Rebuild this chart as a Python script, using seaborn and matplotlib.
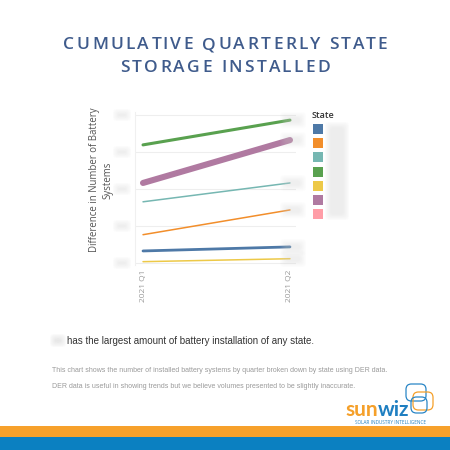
import numpy as np
import pandas as pd
import seaborn as sns
import matplotlib.pyplot as plt
from matplotlib.patches import FancyBboxPatch, Rectangle

sns.set_style("white")
plt.rcParams["font.family"] = ["Open Sans", "DejaVu Sans"]

# state names are blurred out in the original, so only keys are kept
quarters = ["2021 Q1", "2021 Q2"]
states = ["s1", "s2", "s3", "s4", "s5", "s6", "s7"]
state_colors = ["#4e79a7", "#f28e2b", "#76b7b2", "#59a14f", "#edc948", "#b07aa1", "#ff9da7"]
state_widths = [2.0, 1.1, 1.1, 2.2, 1.1, 4.4, 1.1]
q1_values = [320, 760, 1650, 3190, 30, 2160, np.nan]
q2_values = [430, 1430, 2160, 3860, 110, 3320, np.nan]
y_ticks = [0, 1000, 2000, 3000, 4000]

df = pd.DataFrame({
    "quarter": quarters * len(states),
    "state": [s for s in states for _ in quarters],
    "value": [v for pair in zip(q1_values, q2_values) for v in pair],
})

W = 450.0
def fx(x):
    return x / W
def fy(y):
    return 1 - y / W

fig = plt.figure(figsize=(4.5, 4.5), dpi=100)
fig.patch.set_facecolor("white")
renderer = fig.canvas.get_renderer()

def text_width(s, **kw):
    # width in px, with a bar appended so trailing spaces count
    t = fig.text(0, 0, s + "|", **kw)
    b = fig.text(0, 0, "|", **kw)
    w = t.get_window_extent(renderer).width - b.get_window_extent(renderer).width
    t.remove()
    b.remove()
    return w

def spaced_text(s, xc, y, spacing, **kw):
    total = text_width(s, **kw) + spacing * (len(s) - 1)
    x0 = xc - total / 2
    for i, ch in enumerate(s):
        fig.text(fx(x0 + text_width(s[:i], **kw) + i * spacing), fy(y), ch,
                 ha="left", va="center", **kw)

def blur(x, y, w, h, color="#d4d4d4", alpha=0.05):
    # soft grey patch standing in for the blurred labels
    for k in range(8):
        g = 0.8 * k
        fig.add_artist(FancyBboxPatch(
            (fx(x + g), fy(y + h - g)), max(w - 2 * g, 1) / W, max(h - 2 * g, 1) / W,
            boxstyle="round,pad=0,rounding_size=0.008",
            transform=fig.transFigure, facecolor=color, edgecolor="none",
            alpha=alpha, zorder=5))

ax = fig.add_axes([fx(135), fy(265), 161 / W, 153 / W])
sns.lineplot(
    data=df, x="quarter", y="value", hue="state", size="state",
    palette=dict(zip(states, state_colors)),
    sizes=dict(zip(states, state_widths)),
    legend=False, ax=ax,
)
ax.set_xlim(-0.0545, 1.041)
ax.set_ylim(-60, 4080)
ax.set_yticks(y_ticks)
ax.set_yticklabels([])
ax.grid(axis="y", color="#eeeeee", linewidth=0.8)
ax.set_axisbelow(True)
for s in ["top", "right", "bottom"]:
    ax.spines[s].set_visible(False)
ax.spines["left"].set_color("#f0f0f0")
ax.tick_params(axis="y", length=0)
ax.tick_params(axis="x", length=0, labelsize=6, labelcolor="#9a9a9a", pad=3)
for lab in ax.get_xticklabels():
    lab.set_rotation(90)
ax.set_xlabel("")
ax.set_ylabel("")

fig.text(fx(101), fy(180), "Difference in Number of Battery\nSystems", rotation=90,
         ha="center", va="center", fontsize=6.9, color="#555555", linespacing=1.25)

# blurred y tick labels
for t in y_ticks:
    py = 263 - t * 0.037
    blur(113, py - 6, 18, 12)
# blurred end-of-line labels
for v in q2_values:
    if not np.isnan(v):
        blur(280, 263 - v * 0.037 - 8, 26, 16, alpha=0.045)

# legend
fig.text(fx(312), fy(116), "State", fontsize=6.5, color="#333333", va="center", fontweight="semibold")
for i, c in enumerate(state_colors):
    fig.add_artist(Rectangle((fx(313), fy(134 + i * 14.2)), 10 / W, 10 / W,
                             transform=fig.transFigure, facecolor=c, edgecolor="none"))
blur(325, 122, 24, 98, color="#d8d8d8", alpha=0.06)

# title
title_kw = dict(fontsize=12.5, color="#3f5b8c", fontweight="semibold")
spaced_text("CUMULATIVE QUARTERLY STATE", 225, 45, 2.4, **title_kw)
spaced_text("STORAGE INSTALLED", 225, 68, 2.4, **title_kw)

# captions
cap_font = ["Liberation Sans", "DejaVu Sans"]
blur(50, 334, 16, 13, color="#cfcfcf", alpha=0.07)
fig.text(fx(67), fy(341), "has the largest amount of battery installation of any state.",
         fontsize=7.0, color="#333333", va="center", family=cap_font)
fig.text(fx(52), fy(370), "This chart shows the number of installed battery systems by quarter broken down by state using DER data.",
         fontsize=5.05, color="#9a9a9a", va="center", family=cap_font)
fig.text(fx(52), fy(386), "DER data is useful in showing trends but we believe volumes presented to be slightly inaccurate.",
         fontsize=5.05, color="#9a9a9a", va="center", family=cap_font)

# logo
for (x0, y0, w, h, c) in [(406, 384, 20, 17, "#2a86c6"), (413, 392, 20, 18, "#f5a02a"), (411, 397, 16, 16, "#2a86c6")]:
    fig.add_artist(FancyBboxPatch((fx(x0), fy(y0 + h)), w / W, h / W,
                                  boxstyle="round,pad=0,rounding_size=0.012",
                                  transform=fig.transFigure, facecolor="none",
                                  edgecolor=c, linewidth=0.9))
logo_kw = dict(fontsize=15, fontweight="bold", family=["Lato", "DejaVu Sans"])
sun_w = text_width("sun", **logo_kw)
fig.text(fx(345), fy(416), "sun", color="#f5a02a", va="baseline", **logo_kw)
fig.text(fx(345 + sun_w), fy(416), "wiz", color="#1f7fc1", va="baseline", **logo_kw)
fig.text(fx(355), fy(423), "SOLAR INDUSTRY INTELLIGENCE", fontsize=3.3, color="#1f7fc1", va="center")

# bottom bands
fig.add_artist(Rectangle((0, fy(437)), 1, 11 / W, transform=fig.transFigure, facecolor="#f7a12b", edgecolor="none"))
fig.add_artist(Rectangle((0, 0), 1, 13 / W, transform=fig.transFigure, facecolor="#0b80c1", edgecolor="none"))

fig.savefig("out.png", dpi=100, facecolor="white")
